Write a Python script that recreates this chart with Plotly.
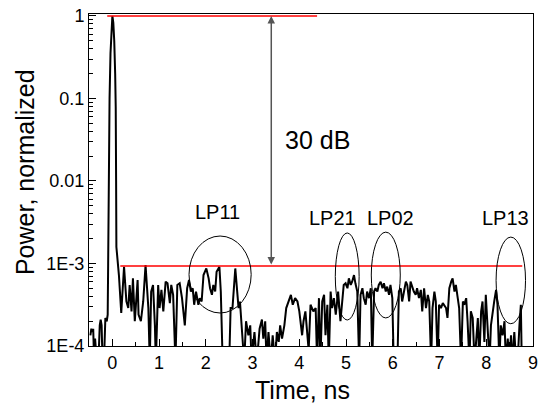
import math
import plotly.graph_objects as go

# ---------------- data ----------------
time_ns = [
    -0.47, -0.45, -0.43, -0.41, -0.39, -0.37, -0.33, -0.30, -0.27, -0.25, -0.23, -0.21, -0.18, -0.15, -0.12,
    -0.10, -0.09, -0.085, -0.08, -0.07, -0.065, -0.06, -0.04, -0.02, 0.0, 0.02, 0.04, 0.06, 0.072, 0.08, 0.086,
    0.14, 0.19, 0.25, 0.30, 0.34, 0.37, 0.41, 0.44, 0.48, 0.54, 0.56, 0.61, 0.66, 0.71, 0.77, 0.80, 0.83, 0.87,
    0.91, 0.93, 0.98, 1.01, 1.05, 1.09, 1.14, 1.18, 1.23, 1.26, 1.30, 1.35, 1.39, 1.44, 1.49, 1.55, 1.60, 1.64,
    1.68, 1.72, 1.75, 1.79, 1.84, 1.87, 1.91,
    1.95, 2.01, 2.06, 2.09, 2.13, 2.16, 2.20, 2.23, 2.29, 2.32, 2.36, 2.45, 2.50, 2.53, 2.57, 2.63, 2.68, 2.70,
    2.73, 2.77, 2.82, 2.86, 2.91, 2.95, 2.98, 3.04, 3.09, 3.15, 3.20, 3.23, 3.27, 3.30, 3.34, 3.39, 3.43, 3.48,
    3.52, 3.56, 3.59, 3.63, 3.68, 3.72, 3.77, 3.82, 3.86, 3.91, 3.96, 4.00, 4.06, 4.09, 4.13, 4.16, 4.20, 4.24,
    4.30,
    4.35, 4.38, 4.42, 4.45, 4.49, 4.53, 4.56, 4.60, 4.63, 4.67, 4.70, 4.74, 4.78, 4.83, 4.88, 4.92, 4.95, 4.99,
    5.03, 5.06, 5.10, 5.13, 5.17, 5.20, 5.24, 5.28, 5.31, 5.35, 5.38, 5.42, 5.45, 5.49, 5.53, 5.56, 5.60, 5.63,
    5.67, 5.70, 5.74, 5.78, 5.81, 5.85, 5.88, 5.92, 5.95, 5.99, 6.02, 6.10, 6.13, 6.17, 6.20, 6.24, 6.28, 6.31,
    6.35, 6.38, 6.42, 6.45, 6.49, 6.52, 6.56, 6.60, 6.63, 6.67,
    6.71, 6.75, 6.78, 6.82, 6.85, 6.89, 6.92, 6.96, 6.99, 7.03, 7.07, 7.10, 7.14, 7.17, 7.21, 7.25, 7.28, 7.32,
    7.35, 7.39, 7.42, 7.46, 7.50, 7.53, 7.57, 7.60, 7.64, 7.67, 7.71, 7.75, 7.78, 7.82, 7.85, 7.89, 7.92, 7.96,
    7.99, 8.03, 8.07, 8.10, 8.14, 8.17, 8.21, 8.24, 8.28, 8.31, 8.35, 8.39, 8.42, 8.46, 8.49, 8.53, 8.56, 8.60,
    8.64, 8.67, 8.71, 8.74, 8.76,
]

power_db = [
    -38.7, -37.9, -38.3, -37.9, -42, -39.1, -42, -42, -37.5, -36.8, -37.5, -42, -42, -36.6, -37.0,
    -36.2, -30.0, -23.0, -20.0, -19.0, -13.0, -10.0, -4.5, -1.2, 0.0, -0.8, -3.0, -7.0, -11.0, -20.0, -28.0,
    -31.4, -36.0, -30.4, -34.6, -35.4, -32.6, -35.8, -31.8, -37.0, -32.0, -36.2, -37.0, -34.6, -30.2, -35.4, -42, -33.4, -32.6,
    -37.5, -42, -32.6, -35.4, -33.2, -35.8, -32.2, -32.4, -34.8, -32.6, -33.8, -42, -32.6, -32.4, -34.2, -37.5, -33.0, -32.0,
    -33.4, -33.0, -35.0, -33.4, -35.0, -34.2, -34.6,
    -31.4, -30.6, -31.8, -33.0, -33.8, -32.6, -33.4, -31.0, -30.4, -33.4, -42, -42, -42, -35.4, -35.4, -30.6, -33.4, -35.4,
    -34.6, -37.5, -42, -37.0, -38.7, -37.5, -42, -38.3, -42, -37.9, -36.8, -39.1, -37.0, -42, -38.3, -42, -38.7, -42,
    -38.3, -39.5, -37.5, -39.1, -37.5, -35.4, -34.6, -33.8, -35.0, -34.2, -34.6, -35.8, -38.7, -37.0, -35.8, -37.5, -40.5, -35.0,
    -35.8,
    -35.4, -42, -34.2, -42, -34.6, -33.8, -38.7, -35.0, -42, -33.4, -35.4, -34.2, -36.2, -33.4, -37.0, -34.6, -32.6, -32.4,
    -33.0, -31.8, -32.6, -32.2, -31.4, -32.4, -33.4, -42, -33.8, -33.0, -34.2, -35.0, -33.4, -34.2, -33.0, -42, -33.4, -33.0,
    -33.4, -32.6, -32.2, -33.0, -32.4, -33.4, -32.8, -33.8, -32.6, -34.2, -42, -42, -33.4, -33.0, -34.6, -33.4, -32.2, -32.6,
    -34.6, -32.2, -33.0, -33.4, -33.8, -33.0, -34.2, -33.2, -35.8, -33.0,
    -35.4, -33.8, -34.6, -42, -35.4, -33.4, -34.6, -42, -35.0, -35.4, -34.8, -35.0, -35.4, -36.6, -33.0, -32.2, -31.8, -33.4,
    -32.6, -34.2, -35.4, -42, -34.6, -35.0, -34.2, -37.0, -42, -35.8, -36.6, -42, -39.1, -36.6, -42, -35.8, -34.6, -39.5,
    -33.8, -37.5, -42, -37.5, -35.4, -34.6, -33.2, -35.0, -42, -37.5, -38.7, -37.0, -42, -39.1, -42, -38.7, -42, -38.3,
    -42, -42, -37.5, -35.0, -42,
]
assert len(time_ns) == len(power_db)

# power in linear (normalized) units, converted from dB
power = [10 ** (d / 10.0) for d in power_db]

y_tick_vals = [1e-4, 1e-3, 1e-2, 1e-1, 1]
y_tick_text = ["1E-4", "1E-3", "0.01", "0.1", "1"]
x_tick_vals = [0, 1, 2, 3, 4, 5, 6, 7, 8, 9]

peak_level = 1.0
floor_level = 9.3e-4
dynamic_range_label = "30 dB"

mode_labels = ["LP11", "LP21", "LP02", "LP13"]

FONT = "Liberation Sans, Arial, Helvetica, sans-serif"

fig = go.Figure()
fig.add_trace(go.Scatter(
    x=time_ns, y=power, mode="lines",
    line=dict(color="black", width=2),
    showlegend=False, hoverinfo="skip",
))

# reference levels (red)
fig.add_shape(type="line", xref="x", yref="y", x0=-0.11, x1=4.38, y0=peak_level, y1=peak_level,
              line=dict(color="red", width=1.5))
fig.add_shape(type="line", xref="x", yref="y", x0=0.17, x1=8.77, y0=floor_level, y1=floor_level,
              line=dict(color="red", width=1.5))

# ellipses around the mode groups (x0, x1, log y0, log y1)
ellipses = {
    "LP11": (1.64, 2.97, -3.60, -2.667),
    "LP21": (4.77, 5.28, -3.685, -2.63),
    "LP02": (5.54, 6.16, -3.66, -2.62),
    "LP13": (8.21, 8.84, -3.73, -2.68),
}
label_pos = {
    "LP11": (2.24, -2.37),
    "LP21": (4.72, -2.45),
    "LP02": (5.95, -2.45),
    "LP13": (8.41, -2.45),
}
for name in mode_labels:
    x0, x1, ly0, ly1 = ellipses[name]
    fig.add_shape(type="circle", xref="x", yref="y", x0=x0, x1=x1,
                  y0=10 ** ly0, y1=10 ** ly1, line=dict(color="black", width=1))
    lx, ly = label_pos[name]
    fig.add_annotation(x=lx, y=ly, xref="x", yref="y", text=name, showarrow=False,
                       font=dict(family=FONT, size=20, color="black"))

# double-headed arrow showing the dynamic range
fig.add_annotation(x=3.40, y=math.log10(peak_level), ax=3.40, ay=math.log10(floor_level),
                   xref="x", yref="y", axref="x", ayref="y", text="",
                   showarrow=True, arrowhead=2, startarrowhead=2, arrowside="end+start",
                   arrowsize=1, startarrowsize=1, arrowwidth=1.5, arrowcolor="#555555")
fig.add_annotation(x=4.38, y=-1.50, xref="x", yref="y", text=dynamic_range_label, showarrow=False,
                   font=dict(family=FONT, size=25, color="black"))

# axis titles
fig.add_annotation(x=0.48, y=-0.1325, xref="paper", yref="paper", text="Time, ns", showarrow=False,
                   xanchor="center", yanchor="middle", font=dict(family=FONT, size=25, color="black"))
fig.add_annotation(x=-0.144, y=0.524, xref="paper", yref="paper", text="Power, normalized", showarrow=False,
                   textangle=-90, xanchor="center", yanchor="middle",
                   font=dict(family=FONT, size=25, color="black"))

minor_y = [k * 10 ** e for e in range(-4, 0) for k in range(2, 10)]

fig.update_xaxes(
    range=[-0.5, 9], tickmode="array", tickvals=x_tick_vals,
    ticks="inside", ticklen=7, tickwidth=1, tickcolor="black",
    minor=dict(ticks="inside", ticklen=4, tickwidth=1, tickcolor="black", dtick=0.5, tick0=0),
    showline=True, linecolor="black", linewidth=1, mirror=True,
    showgrid=False, zeroline=False, automargin=False,
    tickfont=dict(family=FONT, size=18, color="black"),
)
fig.update_yaxes(
    type="log", range=[-4, 0.024], tickmode="array", tickvals=y_tick_vals, ticktext=y_tick_text,
    ticks="inside", ticklen=7, tickwidth=1, tickcolor="black",
    minor=dict(ticks="inside", ticklen=4, tickwidth=1, tickcolor="black", tickmode="array", tickvals=minor_y),
    showline=True, linecolor="black", linewidth=1, mirror=True,
    showgrid=False, zeroline=False, automargin=False,
    tickfont=dict(family=FONT, size=18, color="black"),
)

fig.update_layout(
    width=539, height=403,
    margin=dict(l=89, r=6, t=14, b=57),
    paper_bgcolor="white", plot_bgcolor="white",
    showlegend=False,
)

fig.write_html(
    "out.html",
    config={"displayModeBar": False},
    post_script="document.body.style.margin='0';document.body.style.padding='0';",
)
